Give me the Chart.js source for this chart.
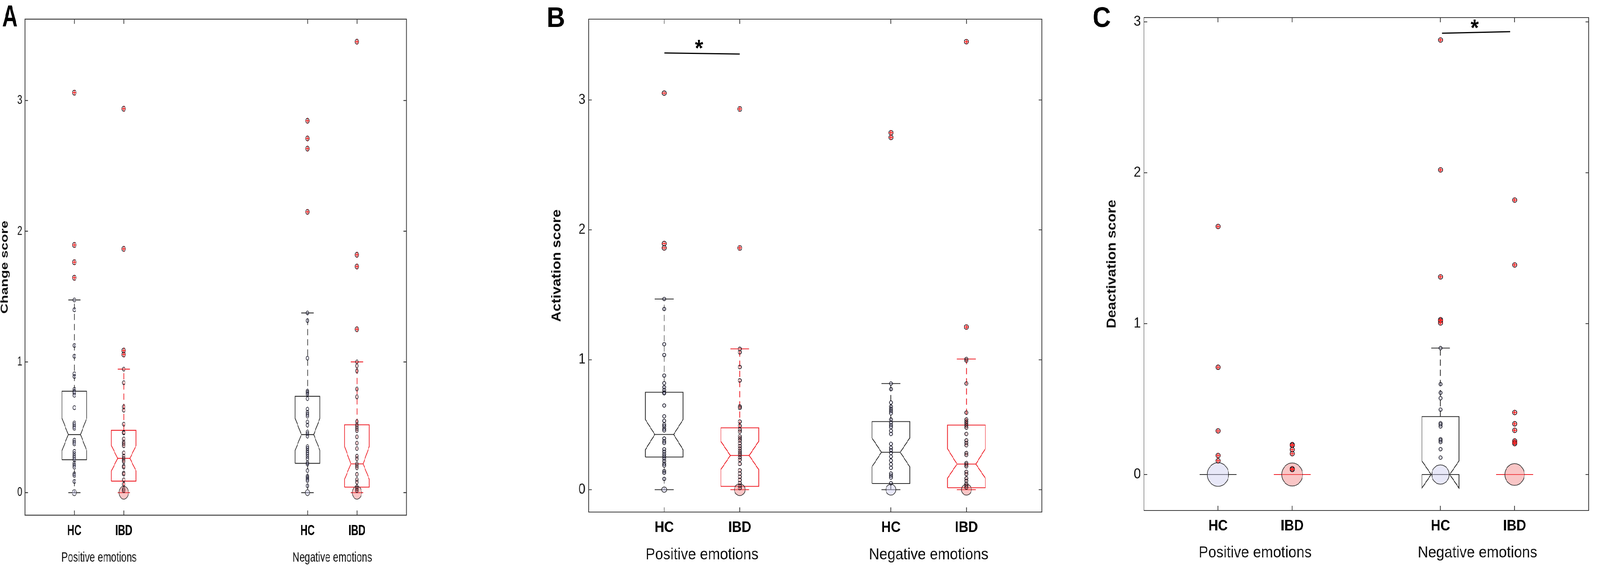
<!DOCTYPE html>
<html>
<head>
<meta charset="utf-8">
<script src="https://cdn.jsdelivr.net/npm/chart.js@4.4.1/dist/chart.umd.min.js"></script>
<style>
html,body{margin:0;padding:0;background:#fff;overflow:hidden;}
#page{position:absolute;left:0;top:0;width:4550px;height:1448px;transform-origin:0 0;}
canvas{position:absolute;top:0;}
#cA{left:0;width:1500px;height:1448px;transform-origin:0 0;transform:scaleX(0.78);}
#cB{left:1500px;width:1480px;height:1448px;}
#cC{left:3080px;width:1470px;height:1448px;}
</style>
</head>
<body>
<div id="page">
<canvas id="cA" width="1500" height="1448"></canvas>
<canvas id="cB" width="1480" height="1448"></canvas>
<canvas id="cC" width="1470" height="1448"></canvas>
</div>
<script>
// fit the 4550-wide layout into the actual viewport width
(function () {
  const vw = window.innerWidth || document.documentElement.clientWidth || 4550;
  const sx = Math.min(1, vw / 4550);
  document.getElementById('page').style.transform = 'scaleX(' + sx + ')';
})();

// ---------------- shared labels ----------------
const groups = ['HC', 'IBD', 'HC', 'IBD'];
const emotions = ['Positive emotions', 'Negative emotions'];
const yTickValues = [0, 1, 2, 3];

// ---------------- Panel A : Change score ----------------
const changePositions = [1, 2, 5.72, 6.72];
const changePosHC = [3.06, 1.895, 1.763, 1.644, 1.474, 1.399, 1.126, 1.044, 0.909, 0.889, 0.79, 0.774, 0.763, 0.745, 0.65, 0.533, 0.52, 0.505, 0.493, 0.401, 0.386, 0.373, 0.315, 0.298, 0.281, 0.267, 0.252, 0.224, 0.21, 0.195, 0.143, 0.132, 0.086];
const changePosIBD = [2.937, 1.865, 1.087, 1.057, 0.945, 0.841, 0.657, 0.631, 0.524, 0.462, 0.457, 0.411, 0.387, 0.374, 0.359, 0.304, 0.279, 0.262, 0.249, 0.238, 0.203, 0.195, 0.15, 0.142, 0.098, 0.065, 0.028, 0.015];
const changeNegHC = [2.845, 2.71, 2.632, 2.148, 1.375, 1.316, 1.029, 0.777, 0.766, 0.753, 0.719, 0.639, 0.614, 0.599, 0.585, 0.541, 0.516, 0.464, 0.45, 0.432, 0.352, 0.338, 0.321, 0.306, 0.292, 0.275, 0.258, 0.229, 0.218, 0.169, 0.126, 0.115, 0.103, 0.092, 0.052];
const changeNegIBD = [3.45, 1.82, 1.73, 1.25, 1.0, 0.97, 0.931, 0.793, 0.733, 0.544, 0.519, 0.504, 0.489, 0.474, 0.427, 0.379, 0.337, 0.279, 0.259, 0.22, 0.205, 0.19, 0.14, 0.1, 0.08, 0.045, 0.03, 0.015];
const changeZeroCounts = [3, 14, 3, 14];
const changeQ1 = [0.252, 0.088, 0.224, 0.042];
const changeMedian = [0.444, 0.262, 0.444, 0.220];
const changeQ3 = [0.776, 0.477, 0.737, 0.519];
const changeNotchLo = [0.321, 0.165, 0.323, 0.102];
const changeNotchHi = [0.570, 0.361, 0.568, 0.354];
const changeWhiskerLo = [0, 0, 0, 0];
const changeWhiskerHi = [1.474, 0.945, 1.375, 1.0];

// ---------------- Panel B : Activation score ----------------
const activationPositions = [1, 2, 4, 5];
const activationPosHC = [3.053, 1.895, 1.861, 1.468, 1.391, 1.120, 1.037, 0.878, 0.820, 0.789, 0.766, 0.748, 0.742, 0.648, 0.565, 0.530, 0.501, 0.488, 0.468, 0.456, 0.394, 0.373, 0.360, 0.311, 0.292, 0.273, 0.257, 0.240, 0.220, 0.199, 0.186, 0.143, 0.130, 0.083];
const activationPosIBD = [2.931, 1.861, 1.084, 1.058, 0.944, 0.841, 0.640, 0.630, 0.524, 0.491, 0.462, 0.447, 0.410, 0.394, 0.379, 0.357, 0.335, 0.317, 0.298, 0.282, 0.267, 0.248, 0.230, 0.199, 0.149, 0.124, 0.099, 0.075, 0.050, 0.029, 0.012];
const activationNegHC = [2.748, 2.712, 0.817, 0.774, 0.671, 0.640, 0.621, 0.605, 0.588, 0.540, 0.516, 0.497, 0.481, 0.453, 0.429, 0.352, 0.323, 0.304, 0.282, 0.255, 0.224, 0.195, 0.168, 0.124, 0.108, 0.093, 0.050];
const activationNegIBD = [3.449, 1.252, 1.006, 0.994, 0.817, 0.593, 0.540, 0.524, 0.509, 0.493, 0.478, 0.429, 0.379, 0.360, 0.342, 0.282, 0.267, 0.205, 0.193, 0.180, 0.137, 0.120, 0.087, 0.068, 0.046, 0.031, 0.016];
const activationZeroCounts = [3, 14, 12, 12];
const activationQ1 = [0.251, 0.025, 0.047, 0.015];
const activationMedian = [0.425, 0.263, 0.288, 0.197];
const activationQ3 = [0.750, 0.476, 0.524, 0.497];
const activationNotchLo = [0.307, 0.155, 0.176, 0.088];
const activationNotchHi = [0.540, 0.372, 0.398, 0.315];
const activationWhiskerLo = [0, 0, 0, 0];
const activationWhiskerHi = [1.468, 1.084, 0.817, 1.006];
const activationSig = {x: [1, 2], y: [3.362, 3.354], starX: 1.46, starY: 3.43};

// ---------------- Panel C : Deactivation score ----------------
const deactivationPositions = [1, 2, 4, 5];
const deactivationPosHC = [1.644, 0.711, 0.289, 0.126, 0.091];
const deactivationPosIBD = [0.198, 0.193, 0.165, 0.138, 0.038, 0.033];
const deactivationNegHC = [2.88, 2.019, 1.31, 1.026, 1.019, 1.005, 0.838, 0.599, 0.542, 0.506, 0.43, 0.34, 0.332, 0.319, 0.234, 0.226, 0.215, 0.168, 0.112];
const deactivationNegIBD = [1.819, 1.389, 0.411, 0.336, 0.293, 0.222, 0.212, 0.205];
const deactivationZeroCounts = [56, 53, 37, 47];
const deactivationQ1 = [0, 0, 0, 0];
const deactivationMedian = [0, 0, 0, 0];
const deactivationQ3 = [0, 0, 0.384, 0];
const deactivationNotchLo = [0, 0, -0.09, 0];
const deactivationNotchHi = [0, 0, 0.09, 0];
const deactivationWhiskerLo = [0, 0, 0, 0];
const deactivationWhiskerHi = [0, 0, 0.838, 0];
const deactivationSig = {x: [4.02, 4.94], y: [2.925, 2.935], starX: 4.46, starY: 2.985};

// ---------------- styling ----------------
const FONT = "'Liberation Sans', Arial, Helvetica, sans-serif";
const BOX_HALF = 0.25, NOTCH_HALF = 0.125;
const lineColors = ['#2a2a2a', '#ee1c24', '#2a2a2a', '#ee1c24'];
const dotFills = ['rgba(185,185,230,0.25)', 'rgba(235,110,110,0.30)', 'rgba(185,185,230,0.25)', 'rgba(235,110,110,0.30)'];
const zeroFills = ['rgba(205,205,240,0.45)', 'rgba(240,120,120,0.42)', 'rgba(205,205,240,0.45)', 'rgba(240,120,120,0.42)'];

function seg(points, color, width, dash, order) {
  return {data: points, showLine: true, borderColor: color, borderWidth: width,
          borderDash: dash || [], pointRadius: 0, pointHoverRadius: 0, fill: false,
          tension: 0, order: order === undefined ? 20 : order};
}

function makeDecor(p) {
  return {
    id: 'decor' + p.letter,
    afterDatasetsDraw(chart) {
      const {ctx, chartArea: a, scales: {x, y}} = chart;
      ctx.save();
      ctx.strokeStyle = '#3a3a3a';
      ctx.lineWidth = p.frameWidth;
      ctx.strokeRect(a.left, a.top, a.right - a.left, a.bottom - a.top);
      ctx.beginPath();
      y.ticks.forEach(t => {
        const py = y.getPixelForValue(t.value);
        ctx.moveTo(a.left, py); ctx.lineTo(a.left + p.yTickLen, py);
        ctx.moveTo(a.right, py); ctx.lineTo(a.right - p.yTickLen, py);
      });
      x.ticks.forEach(t => {
        const px = x.getPixelForValue(t.value);
        ctx.moveTo(px, a.bottom); ctx.lineTo(px, a.bottom - p.xTickLen);
        ctx.moveTo(px, a.top); ctx.lineTo(px, a.top + p.xTickLen);
      });
      ctx.stroke();
      ctx.fillStyle = '#111';
      ctx.font = p.groupFont + 'px ' + FONT;
      ctx.textAlign = 'center';
      ctx.textBaseline = 'alphabetic';
      emotions.forEach((lab, i) => {
        const cx = (x.getPixelForValue(p.positions[2 * i]) + x.getPixelForValue(p.positions[2 * i + 1])) / 2;
        ctx.fillText(lab, cx, p.groupBaseline);
      });
      if (p.sig) {
        ctx.font = 'bold 60px ' + FONT;
        ctx.textBaseline = 'middle';
        ctx.fillStyle = '#000';
        ctx.fillText('*', x.getPixelForValue(p.sig.starX), y.getPixelForValue(p.sig.starY) + 13);
      }
      ctx.font = 'bold ' + p.letterFont + 'px ' + FONT;
      ctx.textAlign = 'left';
      ctx.textBaseline = 'alphabetic';
      ctx.fillStyle = '#000';
      ctx.fillText(p.letter, p.letterX, p.letterBaseline);
      ctx.restore();
    }
  };
}

function makePanel(p) {
  const ds = [];
  p.positions.forEach((x, i) => {
    const c = lineColors[i];
    const q1 = p.q1[i], q3 = p.q3[i], md = p.median[i], nl = p.notchLo[i], nh = p.notchHi[i];
    const L = x - BOX_HALF, R = x + BOX_HALF;
    ds.push(seg([
      {x: L, y: q1}, {x: L, y: nl}, {x: x - NOTCH_HALF, y: md}, {x: L, y: nh}, {x: L, y: q3},
      {x: R, y: q3}, {x: R, y: nh}, {x: x + NOTCH_HALF, y: md}, {x: R, y: nl}, {x: R, y: q1},
      {x: L, y: q1}], c, p.lw));
    ds.push(seg([{x: x - NOTCH_HALF, y: md}, {x: x + NOTCH_HALF, y: md}], c, p.lw));
    if (p.whiskerHi[i] > q3) ds.push(seg([{x: x, y: q3}, {x: x, y: p.whiskerHi[i]}], c, p.lw, [16, 10]));
    if (p.whiskerLo[i] < q1) ds.push(seg([{x: x, y: q1}, {x: x, y: p.whiskerLo[i]}], c, p.lw, [16, 10]));
    ds.push(seg([{x: x - NOTCH_HALF, y: p.whiskerHi[i]}, {x: x + NOTCH_HALF, y: p.whiskerHi[i]}], c, p.lw));
    ds.push(seg([{x: x - NOTCH_HALF, y: p.whiskerLo[i]}, {x: x + NOTCH_HALF, y: p.whiskerLo[i]}], c, p.lw));

    const vals = p.values[i];
    const inl = vals.filter(v => v <= p.whiskerHi[i] + 1e-9 && v >= p.whiskerLo[i] - 1e-9);
    const out = vals.filter(v => v > p.whiskerHi[i] + 1e-9 || v < p.whiskerLo[i] - 1e-9);
    ds.push({data: [{x: x, y: 0}], showLine: false, pointRadius: p.r * Math.sqrt(p.zeroCounts[i]) * 0.9,
             pointBackgroundColor: zeroFills[i], pointBorderColor: 'rgba(35,35,35,0.9)', pointBorderWidth: 1.7, order: 8});
    ds.push({data: inl.map(v => ({x: x, y: v})), showLine: false, pointRadius: p.r,
             pointBackgroundColor: dotFills[i], pointBorderColor: 'rgba(15,15,25,0.95)', pointBorderWidth: 1.8, order: 3});
    ds.push({data: out.map(v => ({x: x, y: v})), showLine: false, pointRadius: p.rOut,
             pointBackgroundColor: 'rgba(240,150,150,0.25)', pointBorderColor: 'rgba(15,15,25,0.95)', pointBorderWidth: 1.8, order: 4});
    ds.push({data: out.map(v => ({x: x, y: v})), showLine: false, pointStyle: 'cross', pointRadius: p.rOut + 0.5,
             pointBorderColor: '#ff1a1a', pointBorderWidth: 2, order: 2});
  });
  if (p.sig) {
    ds.push(seg([{x: p.sig.x[0], y: p.sig.y[0]}, {x: p.sig.x[1], y: p.sig.y[1]}], '#000', 3, [], 1));
  }
  const W = p.width, H = 1448;
  new Chart(document.getElementById(p.canvas), {
    type: 'scatter',
    data: {datasets: ds},
    options: {
      responsive: false, animation: false, devicePixelRatio: 1, events: [],
      layout: {padding: {top: p.area.top, right: W - p.area.right, left: 0, bottom: 0}},
      plugins: {legend: {display: false}, tooltip: {enabled: false}},
      scales: {
        x: {
          type: 'linear', min: 0, max: p.xMax,
          afterBuildTicks: s => { s.ticks = p.positions.map(v => ({value: v})); },
          afterFit: s => { s.height = H - p.area.bottom; },
          grid: {display: false, drawTicks: false}, border: {display: false},
          ticks: {autoSkip: false, maxRotation: 0, padding: p.xPad, color: '#000',
                  font: {family: FONT, size: p.xFont, weight: 'bold'},
                  callback: (v, idx) => groups[idx]}
        },
        y: {
          type: 'linear', min: p.yMin, max: p.yMax,
          afterBuildTicks: s => { s.ticks = yTickValues.map(v => ({value: v})); },
          afterFit: s => { s.width = p.area.left; },
          grid: {display: false, drawTicks: false}, border: {display: false},
          ticks: {padding: p.yPad, color: '#1a1a1a', font: {family: FONT, size: p.yFont},
                  callback: v => String(v)},
          title: {display: true, text: p.title, color: '#111',
                  font: {family: FONT, size: p.titleFont, weight: 'bold', lineHeight: 1},
                  padding: {top: p.titlePad, bottom: 0}}
        }
      }
    },
    plugins: [makeDecor(p)]
  });
}

makePanel({
  canvas: 'cA', letter: 'A', width: 1500, area: {left: 91, right: 1487, top: 49, bottom: 1318},
  positions: changePositions, xMax: 7.72, yMin: -0.1725, yMax: 3.6225,
  values: [changePosHC, changePosIBD, changeNegHC, changeNegIBD], zeroCounts: changeZeroCounts,
  q1: changeQ1, median: changeMedian, q3: changeQ3, notchLo: changeNotchLo, notchHi: changeNotchHi,
  whiskerLo: changeWhiskerLo, whiskerHi: changeWhiskerHi,
  title: 'Change score', titleFont: 36, titlePad: 0, yFont: 33, yPad: 10, xFont: 36, xPad: 19,
  groupFont: 35, groupBaseline: 1437, letterFont: 78, letterX: 8, letterBaseline: 68,
  lw: 2.2, frameWidth: 2.4, yTickLen: 11, xTickLen: 12, r: 5, rOut: 6.5, sig: null
});
makePanel({
  canvas: 'cB', letter: 'B', width: 1480, area: {left: 174, right: 1469, top: 49, bottom: 1310},
  positions: activationPositions, xMax: 6, yMin: -0.1725, yMax: 3.6225,
  values: [activationPosHC, activationPosIBD, activationNegHC, activationNegIBD], zeroCounts: activationZeroCounts,
  q1: activationQ1, median: activationMedian, q3: activationQ3, notchLo: activationNotchLo, notchHi: activationNotchHi,
  whiskerLo: activationWhiskerLo, whiskerHi: activationWhiskerHi,
  title: 'Activation score', titleFont: 37, titlePad: 65, yFont: 36, yPad: 9, xFont: 38, xPad: 18,
  groupFont: 41, groupBaseline: 1431, letterFont: 72, letterX: 55, letterBaseline: 69,
  lw: 2, frameWidth: 2, yTickLen: 9, xTickLen: 12, r: 4.5, rOut: 6, sig: activationSig
});
makePanel({
  canvas: 'cC', letter: 'C', width: 1470, area: {left: 173, right: 1467, top: 45, bottom: 1306},
  positions: deactivationPositions, xMax: 6, yMin: -0.2385, yMax: 3.0285,
  values: [deactivationPosHC, deactivationPosIBD, deactivationNegHC, deactivationNegIBD], zeroCounts: deactivationZeroCounts,
  q1: deactivationQ1, median: deactivationMedian, q3: deactivationQ3, notchLo: deactivationNotchLo, notchHi: deactivationNotchHi,
  whiskerLo: deactivationWhiskerLo, whiskerHi: deactivationWhiskerHi,
  title: 'Deactivation score', titleFont: 37, titlePad: 64, yFont: 36, yPad: 9, xFont: 38, xPad: 18,
  groupFont: 41, groupBaseline: 1426, letterFont: 72, letterX: 27, letterBaseline: 69,
  lw: 2, frameWidth: 2, yTickLen: 9, xTickLen: 12, r: 4.5, rOut: 6, sig: deactivationSig
});
</script>
</body>
</html>
